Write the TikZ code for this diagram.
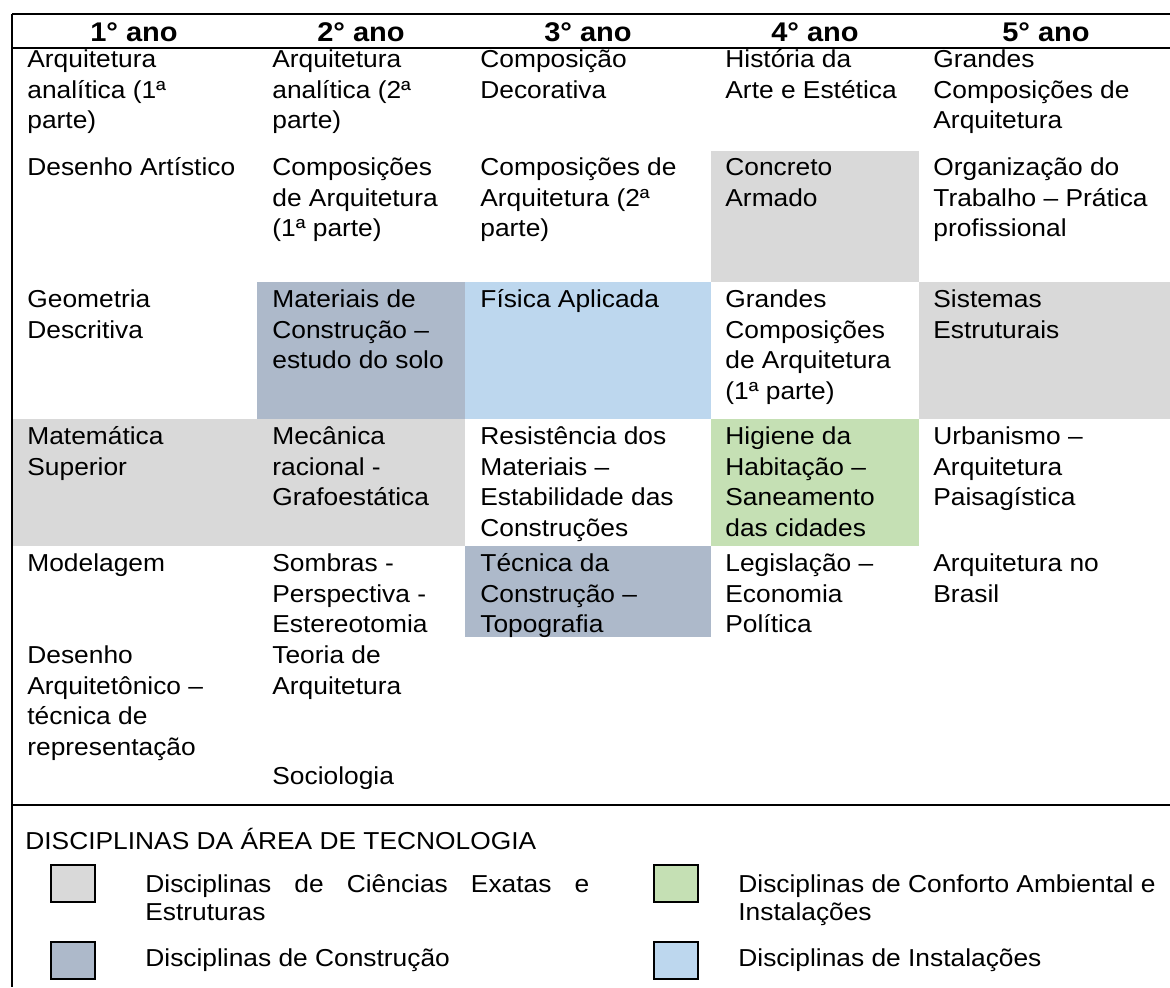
\documentclass[tikz,border=0pt]{standalone}
\usepackage{fontspec}
\setmainfont[FakeStretch=1.075]{Liberation Sans}
\usetikzlibrary{positioning}
\definecolor{exatas}{HTML}{D9D9D9}
\definecolor{construcao}{HTML}{ADB9CA}
\definecolor{instal}{HTML}{BDD7EE}
\definecolor{conforto}{HTML}{C5E0B4}
\newcommand{\cst}{\rule{0pt}{13pt}}
\tikzstyle{rule} = [line width=1pt, black]
\tikzstyle{head} = [anchor=base, inner sep=0pt, font=\fontsize{13.5}{15.35}\selectfont\bfseries]
\tikzstyle{cell} = [anchor=north west, inner sep=0pt, align=left, font=\fontsize{12.25}{15.35}\selectfont]
\tikzstyle{leg} = [anchor=north west, inner sep=0pt, align=left, font=\fontsize{12.25}{14}\selectfont]
\tikzstyle{legbox} = [draw=black, line width=1pt, minimum width=22pt, minimum height=18.5pt, inner sep=0pt]

\begin{document}
\begin{tikzpicture}[x=0.5pt, y=-0.5pt]
		\useasboundingbox (0,0) rectangle (1170,987);
		% coloured cells
		\fill [exatas] (711,151) rectangle (919,282);
		\fill [construcao] (257,282) rectangle (465,419);
		\fill [instal] (465,282) rectangle (711,419);
		\fill [exatas] (919,282) rectangle (1170,419);
		\fill [exatas] (13,419) rectangle (465,546);
		\fill [conforto] (711,419) rectangle (919,546);
		\fill [construcao] (465,546) rectangle (711,637);
		% rules
		\draw [rule] (12,14) -- (1170,14);
		\draw [rule] (12,48) -- (1170,48);
		\draw [rule] (12,805) -- (1170,805);
		\draw [rule] (12,14) -- (12,987);
		% header
		\node (h1) [head] at (134,41) {1° ano};
		\node (h2) [head] at (361,41) {2° ano};
		\node (h3) [head] at (588,41) {3° ano};
		\node (h4) [head] at (815,41) {4° ano};
		\node (h5) [head] at (1046,41) {5° ano};
		% row 1
		\node (a1) [cell] at (27,41) {\cst Arquitetura\\analítica (1ª\\parte)};
		\node (a2) [cell] at (272,41) {\cst Arquitetura\\analítica (2ª\\parte)};
		\node (a3) [cell] at (480,41) {\cst Composição\\Decorativa};
		\node (a4) [cell] at (725,41) {\cst História da\\Arte e Estética};
		\node (a5) [cell] at (933,41) {\cst Grandes\\Composições de\\Arquitetura};
		% row 2
		\node (b1) [cell] at (27,149) {\cst Desenho Artístico};
		\node (b2) [cell] at (272,149) {\cst Composições\\de Arquitetura\\(1ª parte)};
		\node (b3) [cell] at (480,149) {\cst Composições de\\Arquitetura (2ª\\parte)};
		\node (b4) [cell] at (725,149) {\cst Concreto\\Armado};
		\node (b5) [cell] at (933,149) {\cst Organização do\\Trabalho – Prática\\profissional};
		% row 3
		\node (c1) [cell] at (27,281) {\cst Geometria\\Descritiva};
		\node (c2) [cell] at (272,281) {\cst Materiais de\\Construção –\\estudo do solo};
		\node (c3) [cell] at (480,281) {\cst Física Aplicada};
		\node (c4) [cell] at (725,281) {\cst Grandes\\Composições\\de Arquitetura\\(1ª parte)};
		\node (c5) [cell] at (933,281) {\cst Sistemas\\Estruturais};
		% row 4
		\node (d1) [cell] at (27,418) {\cst Matemática\\Superior};
		\node (d2) [cell] at (272,418) {\cst Mecânica\\racional -\\Grafoestática};
		\node (d3) [cell] at (480,418) {\cst Resistência dos\\Materiais –\\Estabilidade das\\Construções};
		\node (d4) [cell] at (725,418) {\cst Higiene da\\Habitação –\\Saneamento\\das cidades};
		\node (d5) [cell] at (933,418) {\cst Urbanismo –\\Arquitetura\\Paisagística};
		% row 5
		\node (e1) [cell] at (27,545) {\cst Modelagem};
		\node (e2) [cell] at (272,545) {\cst Sombras -\\Perspectiva -\\Estereotomia};
		\node (e3) [cell] at (480,545) {\cst Técnica da\\Construção –\\Topografia};
		\node (e4) [cell] at (725,545) {\cst Legislação –\\Economia\\Política};
		\node (e5) [cell] at (933,545) {\cst Arquitetura no\\Brasil};
		% row 6
		\node (f1) [cell] at (27,637) {\cst Desenho\\Arquitetônico –\\técnica de\\representação};
		\node (f2) [cell] at (272,637) {\cst Teoria de\\Arquitetura};
		\node (g2) [cell] at (272,758) {\cst Sociologia};
		% legend
		\node (lt) [cell] at (25,823) {\cst DISCIPLINAS DA ÁREA DE TECNOLOGIA};
		\node (k1) [legbox, fill=exatas] at (73,883) {};
		\node (k2) [legbox, fill=construcao] at (73,960) {};
		\node (k3) [legbox, fill=conforto] at (676,883) {};
		\node (k4) [legbox, fill=instal] at (676,960) {};
		\node (l1) [leg] at (145,866) {\cst\makebox[222pt][s]{Disciplinas de Ciências Exatas e}\\Estruturas};
		\node (l2) [leg] at (145,940) {\cst Disciplinas de Construção};
		\node (l3) [leg] at (738,866) {\cst Disciplinas de Conforto Ambiental e\\Instalações};
		\node (l4) [leg] at (738,940) {\cst Disciplinas de Instalações};
\end{tikzpicture}
\end{document}
